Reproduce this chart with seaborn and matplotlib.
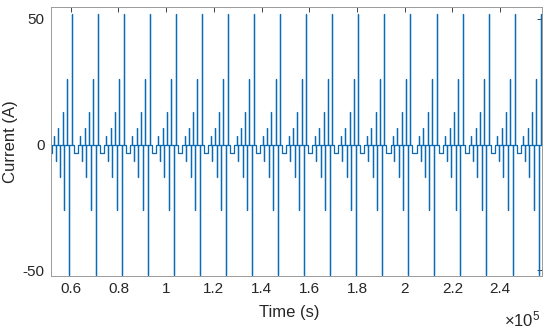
import numpy as np
import pandas as pd
import matplotlib
matplotlib.use("Agg")
import matplotlib.pyplot as plt
import seaborn as sns

# -----------------------
# Data
# -----------------------
# times of the tall positive pulse in each cycle (s)
cycle_peaks = [49500, 60400, 71350, 82250, 93200, 104100, 115050, 126000,
               136900, 147850, 158750, 169700, 180600, 191550, 202450,
               213400, 224350, 235250, 246200, 257100]

# pulse train inside one cycle, offsets relative to the tall positive pulse (s)
pulse_offsets = [-7340, -6710, -5540, -4820, -3690, -3020, -1970, -960, 0]
pulse_amps = [3.25, -6.5, 6.5, -13, 13, -26, 26, -52, 52]

# wide negative dip right after the tall pulse (start, end offsets) and level
dip_start, dip_end = 840, 2520
dip_level = -3.25

x_range = (51600, 257600)
y_range = (-52.1, 54.8)

xticks = [60000, 80000, 100000, 120000, 140000, 160000, 180000, 200000, 220000, 240000]
xtick_labels = ["0.6", "0.8", "1", "1.2", "1.4", "1.6", "1.8", "2", "2.2", "2.4"]
yticks = [-50, 0, 50]
ytick_labels = ["-50", "0", "50"]

# -----------------------
# Build the waveform
# -----------------------
t, i = [x_range[0]], [0.0]
for p in cycle_peaks:
    for off, a in zip(pulse_offsets, pulse_amps):
        t += [p + off, p + off, p + off]
        i += [0.0, a, 0.0]
    t += [p + dip_start, p + dip_start, p + dip_end, p + dip_end]
    i += [0.0, dip_level, dip_level, 0.0]
t.append(x_range[1])
i.append(0.0)
df = pd.DataFrame({"time": t, "current": i})

# -----------------------
# Plot
# -----------------------
sns.set_theme(style="white")
plt.rcParams["font.family"] = ["Liberation Sans", "DejaVu Sans"]
plt.rcParams["axes.unicode_minus"] = False

fig = plt.figure(figsize=(5.5, 3.28), dpi=100)
ax = fig.add_axes([0.0922, 0.1595, 0.8933, 0.8201])

sns.lineplot(data=df, x="time", y="current", estimator=None, sort=False,
             color="#0a6ab4", linewidth=0.9, ax=ax)

ax.set_xlim(*x_range)
ax.set_ylim(*y_range)
ax.set_xticks(xticks)
ax.set_xticklabels(xtick_labels)
ax.set_yticks(yticks)
ax.set_yticklabels(ytick_labels)

ax.tick_params(direction="in", top=True, right=True, length=3.5, width=0.6,
               color="#262626", labelcolor="#262626", labelsize=11, pad=4.5)
for s in ax.spines.values():
    s.set_color("#9a9a9a")
    s.set_linewidth(0.7)

ax.set_xlabel("Time (s)", fontsize=12, color="#262626")
ax.set_ylabel("Current (A)", fontsize=12, color="#262626")
ax.xaxis.set_label_coords(0.485, -0.108)
ax.yaxis.set_label_coords(-0.066, 0.5)

fig.text(540 / 550, 1 - 319 / 328, r"$\mathregular{\times10^{5}}$",
         ha="right", va="center", fontsize=12, color="#262626")

plt.savefig("out.png", dpi=100)
plt.close()
